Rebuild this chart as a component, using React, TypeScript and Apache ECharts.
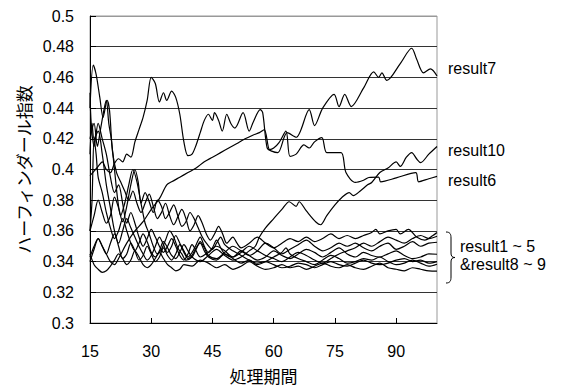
import React, { useEffect, useRef } from "react";
import * as echarts from "echarts";

type P = [number, number];

const xTicks = { min: 15, max: 100, interval: 15 };
const yTicks = { min: 0.3, max: 0.5, interval: 0.02 };

const result7: P[] = [[15,0.396],[16,0.399],[17,0.402],[18,0.405],[19,0.4],[20,0.398],[21,0.404],[22,0.407],[23,0.405],[24,0.41],[25,0.408],[26,0.418],[27,0.426],[28,0.434],[29,0.445],[30,0.46],[31,0.456],[32,0.444],[33,0.45],[33.8,0.445],[35,0.451],[36,0.447],[37,0.436],[38,0.418],[39,0.409],[40,0.41],[41,0.416],[42,0.424],[43,0.432],[44,0.436],[45,0.432],[45.5,0.437],[46.5,0.432],[47.4,0.425],[48.5,0.436],[49.5,0.43],[50.5,0.427],[52.5,0.437],[54,0.425],[55,0.431],[56.7,0.439],[57.3,0.437],[58.4,0.414],[59.5,0.412],[61,0.411],[63.3,0.424],[65.5,0.421],[68.7,0.439],[70,0.4286],[72,0.44],[74.8,0.449],[76,0.441],[77.4,0.449],[79,0.441],[82,0.453],[84.5,0.4636],[85.7,0.46],[86.5,0.463],[87.7,0.458],[91,0.469],[93.8,0.479],[95,0.472],[96.7,0.463],[98.4,0.4656],[100,0.461]];

const result6: P[] = [[15,0.343],[16,0.35],[17,0.355],[18,0.35],[19,0.345],[20,0.34],[21,0.338],[22,0.342],[24,0.352],[26,0.36],[28,0.366],[30,0.374],[32,0.381],[33.8,0.39],[35,0.392],[37,0.395],[39,0.398],[41,0.401],[43,0.405],[45,0.408],[47,0.411],[49,0.414],[51,0.417],[53,0.42],[55,0.4225],[56.5,0.424],[57.7,0.426],[59,0.413],[60,0.414],[61.3,0.4175],[63,0.425],[64,0.4085],[65.5,0.41],[67.4,0.416],[68.7,0.414],[70,0.418],[71.8,0.4208],[73,0.411],[76.5,0.411],[77.7,0.398],[80,0.3916],[82,0.393],[83.3,0.3948],[85.7,0.395],[86.2,0.392],[90,0.3945],[94.8,0.398],[95.5,0.392],[98,0.394],[100,0.3955]];

const result10: P[] = [[15,0.36],[15.5,0.38],[16,0.42],[16.5,0.41],[17,0.395],[18,0.385],[19,0.372],[20,0.362],[21,0.355],[22,0.36],[23,0.368],[24,0.36],[25,0.352],[26,0.347],[27,0.352],[28,0.358],[29,0.353],[30,0.346],[31,0.343],[32,0.347],[33,0.353],[34,0.349],[35,0.344],[36,0.342],[37,0.346],[38,0.351],[39,0.347],[40,0.343],[42,0.34],[44,0.344],[46,0.348],[48,0.344],[50,0.341],[52,0.343],[54,0.347],[55.5,0.35],[56.5,0.356],[58,0.362],[60,0.368],[62,0.374],[63.8,0.379],[65.5,0.376],[66.2,0.379],[68,0.373],[70.4,0.3656],[71.5,0.364],[73,0.37],[75,0.377],[76.7,0.3818],[78.5,0.385],[79.5,0.383],[81.2,0.386],[83,0.39],[84,0.3915],[86,0.398],[88,0.401],[90,0.405],[91,0.402],[92.5,0.408],[93.8,0.411],[95,0.407],[96,0.4045],[98,0.41],[100,0.415]];

const result1: P[] = [[15,0.345],[16,0.338],[17,0.335],[18,0.333],[19,0.334],[20,0.337],[21,0.341],[22,0.345],[23,0.342],[24,0.338],[25,0.341],[26,0.347],[27,0.343],[28,0.338],[29,0.336],[30,0.338],[31,0.342],[32,0.346],[33,0.342],[34,0.338],[35,0.336],[36,0.334],[37,0.335],[38,0.338],[40,0.337],[42,0.341],[44,0.339],[46,0.336],[48,0.338],[50,0.335],[52,0.337],[54,0.34],[56,0.337],[58,0.335],[60,0.336],[62,0.338],[64,0.336],[66,0.337],[68,0.335],[70,0.337],[72,0.339],[74,0.337],[76,0.336],[78,0.338],[80,0.336],[82,0.335],[84,0.337],[86,0.339],[88,0.336],[90,0.335],[92,0.334],[94,0.336],[96,0.335],[98,0.334],[100,0.3338]];

const result2: P[] = [[15,0.34],[16,0.348],[17,0.355],[18,0.35],[19,0.345],[20,0.352],[21,0.358],[22,0.35],[23,0.342],[24,0.345],[25,0.352],[26,0.347],[27,0.341],[28,0.344],[29,0.35],[30,0.345],[31,0.34],[32,0.343],[33,0.349],[34,0.344],[35,0.341],[36,0.345],[37,0.351],[38,0.346],[39,0.342],[40,0.344],[41,0.349],[42,0.352],[43,0.347],[44,0.343],[46,0.341],[48,0.345],[50,0.342],[52,0.339],[54,0.341],[56,0.338],[58,0.34],[60,0.343],[62,0.346],[63,0.349],[64,0.345],[66,0.342],[68,0.34],[70,0.338],[72,0.341],[74,0.344],[76,0.342],[78,0.339],[80,0.34],[82,0.342],[84,0.341],[86,0.343],[88,0.34],[90,0.338],[92,0.339],[94,0.341],[96,0.339],[98,0.337],[100,0.3383]];

const result3: P[] = [[15,0.41],[15.5,0.43],[16,0.42],[17,0.425],[18,0.41],[19,0.39],[20,0.375],[21,0.36],[22,0.352],[23,0.36],[24,0.368],[25,0.362],[26,0.356],[27,0.35],[28,0.345],[29,0.341],[30,0.344],[31,0.35],[32,0.356],[33,0.351],[34,0.346],[35,0.35],[36,0.357],[37,0.352],[38,0.347],[39,0.343],[40,0.346],[41,0.351],[42,0.356],[43,0.35],[44,0.346],[45,0.349],[46,0.354],[47,0.349],[48,0.345],[50,0.343],[52,0.347],[54,0.344],[56,0.341],[58,0.343],[60,0.347],[62,0.344],[64,0.342],[66,0.345],[68,0.348],[70,0.346],[72,0.343],[74,0.346],[76,0.349],[78,0.345],[80,0.343],[82,0.346],[84,0.344],[86,0.343],[88,0.345],[90,0.347],[92,0.344],[94,0.342],[96,0.343],[98,0.345],[100,0.3448]];

const result4: P[] = [[15,0.44],[15.8,0.468],[16.5,0.462],[17.4,0.447],[18.2,0.434],[19.2,0.445],[19.8,0.438],[20.5,0.412],[21.5,0.398],[22.5,0.392],[23.5,0.386],[24.5,0.38],[25.5,0.386],[26.5,0.378],[27.5,0.372],[28.5,0.378],[29.5,0.384],[30.5,0.376],[31.5,0.368],[32.5,0.372],[33.5,0.378],[34.5,0.37],[35.5,0.364],[36.5,0.369],[37.5,0.374],[38.5,0.368],[39.5,0.36],[40.5,0.364],[41.5,0.37],[42.5,0.365],[43.5,0.358],[44.5,0.354],[45.5,0.358],[46.5,0.363],[47.5,0.358],[48.5,0.352],[50,0.356],[51,0.352],[52,0.349],[54,0.352],[56,0.356],[58,0.352],[60,0.349],[62,0.352],[64,0.355],[66,0.353],[68,0.356],[70,0.353],[72,0.355],[74,0.358],[76,0.355],[78,0.357],[80,0.355],[82,0.357],[84,0.359],[85,0.361],[86,0.358],[88,0.36],[90,0.361],[91,0.358],[93,0.361],[95,0.356],[97,0.354],[99,0.357],[100,0.359]];

const result5: P[] = [[15,0.42],[16,0.43],[16.8,0.415],[17.5,0.425],[18.5,0.44],[19,0.445],[19.6,0.43],[20.2,0.42],[21,0.4],[21.8,0.38],[22.5,0.37],[23.5,0.378],[24.5,0.39],[25.5,0.4],[26.5,0.392],[27.5,0.378],[28.5,0.365],[29.5,0.358],[30.5,0.35],[31.5,0.345],[32.5,0.348],[33.5,0.354],[34.5,0.36],[35.5,0.356],[36.5,0.349],[37.5,0.345],[38.5,0.341],[40,0.343],[41,0.348],[42,0.353],[43,0.349],[44,0.344],[46,0.342],[48,0.346],[50,0.35],[52,0.347],[54,0.344],[56,0.347],[58,0.352],[60,0.349],[62,0.345],[64,0.348],[66,0.351],[68,0.354],[70,0.35],[72,0.347],[74,0.349],[76,0.352],[78,0.35],[80,0.352],[82,0.349],[84,0.347],[86,0.35],[88,0.352],[90,0.348],[92,0.35],[94,0.353],[96,0.35],[98,0.352],[100,0.3526]];

const result8: P[] = [[15,0.36],[16,0.37],[17,0.38],[18,0.372],[19,0.365],[20,0.37],[21,0.382],[22,0.375],[23,0.366],[24,0.376],[25,0.39],[26,0.4],[26.8,0.392],[27.5,0.378],[28.5,0.385],[29.5,0.379],[30.5,0.372],[31.5,0.38],[32.5,0.376],[33.5,0.368],[34.5,0.372],[35.5,0.377],[36.5,0.37],[37.5,0.363],[38.5,0.366],[39.5,0.372],[40.5,0.368],[41.5,0.362],[42.5,0.356],[43.5,0.352],[45,0.348],[46,0.352],[47,0.356],[48,0.351],[50,0.347],[52,0.344],[54,0.341],[56,0.339],[58,0.34],[60,0.338],[62,0.336],[64,0.337],[66,0.339],[68,0.338],[70,0.336],[72,0.338],[74,0.34],[76,0.338],[78,0.337],[80,0.339],[82,0.341],[84,0.339],[86,0.338],[88,0.339],[90,0.341],[92,0.342],[94,0.34],[96,0.341],[98,0.339],[100,0.34]];

const result9: P[] = [[15,0.45],[15.3,0.43],[16,0.415],[17,0.43],[18,0.42],[19,0.41],[20,0.395],[21,0.385],[22,0.39],[23,0.378],[24,0.365],[25,0.372],[26,0.365],[27,0.356],[28,0.35],[29,0.355],[30,0.361],[31,0.356],[32,0.35],[33,0.346],[34,0.35],[35,0.355],[36,0.35],[37,0.344],[38,0.341],[39,0.345],[40,0.351],[41,0.347],[42,0.343],[44,0.346],[46,0.35],[48,0.347],[50,0.343],[52,0.346],[54,0.35],[56,0.347],[58,0.344],[60,0.342],[62,0.34],[64,0.343],[66,0.346],[68,0.344],[70,0.341],[72,0.339],[74,0.342],[76,0.345],[78,0.347],[80,0.349],[82,0.352],[84,0.35],[86,0.353],[88,0.356],[90,0.354],[92,0.352],[94,0.355],[96,0.357],[98,0.355],[100,0.3565]];

const seriesList: P[][] = [result1, result2, result3, result4, result5, result6, result7, result8, result9, result10];

const rightLabels = ["result7", "result10", "result6", "result1 ~ 5", "&result8 ~ 9"];
const xName = "処理期間";
const yName = "ハーフィンダール指数";

const LATIN = "'Liberation Sans', Arial, sans-serif";
const CJK = "'Noto Sans CJK JP', sans-serif";

echarts.graphic.registerShape(
  "brace",
  echarts.graphic.extendPath(
    "M0,0 C4,0 5,2 5,6 L5,21 C5,24 6,25.5 9,25.5 C6,25.5 5,27 5,30 L5,45 C5,49 4,51 0,51",
    {}
  ) as any
);

export default function App() {
  const ref = useRef<HTMLDivElement>(null);
  useEffect(() => {
    if (!ref.current) return;
    const chart = echarts.init(ref.current, undefined, { renderer: "svg" });
    const labelPos = [
      [448, 68],
      [448, 150],
      [448, 180],
      [460, 246],
      [460, 264],
    ];
    chart.setOption({
      animation: false,
      backgroundColor: "#fff",
      grid: {
        left: 90,
        top: 16,
        right: 128,
        bottom: 65,
        show: true,
        borderColor: "#999",
        borderWidth: 1,
      },
      xAxis: {
        type: "value",
        min: xTicks.min,
        max: xTicks.max,
        interval: xTicks.interval,
        name: xName,
        nameLocation: "middle",
        nameGap: 44,
        nameTextStyle: { fontFamily: CJK, fontSize: 17, color: "#000" },
        axisLine: { lineStyle: { color: "#000", width: 1 } },
        axisTick: { inside: true, length: 5, lineStyle: { color: "#000" } },
        axisLabel: {
          color: "#000",
          fontFamily: LATIN,
          fontSize: 16,
          margin: 20,
          showMaxLabel: false,
        },
        splitLine: { show: false },
      },
      yAxis: {
        type: "value",
        min: yTicks.min,
        max: yTicks.max,
        interval: yTicks.interval,
        name: yName,
        nameLocation: "middle",
        nameGap: 58,
        nameRotate: 90,
        nameTextStyle: { fontFamily: CJK, fontSize: 17, color: "#000" },
        axisLine: { show: true, lineStyle: { color: "#000", width: 1 } },
        axisTick: { show: true, inside: true, length: 6, lineStyle: { color: "#000" } },
        axisLabel: { color: "#000", fontFamily: LATIN, fontSize: 16, margin: 16 },
        splitLine: {
          show: true,
          lineStyle: {
            color: ["#000", "#333", "#333", "#333", "#333", "#333", "#333", "#333", "#333", "#333", "#999"],
            width: 1,
          },
        },
      },
      series: seriesList.map((d, i) => ({
        type: "line",
        name: "s" + i,
        data: d,
        showSymbol: false,
        symbol: "none",
        smooth: 0.3,
        lineStyle: { color: "#000", width: 1.2 },
        z: 3,
      })),
      graphic: [
        ...rightLabels.map((t, i) => ({
          type: "text",
          x: labelPos[i][0],
          y: labelPos[i][1],
          style: {
            text: t,
            fontFamily: LATIN,
            fontSize: 16,
            fill: "#000",
            verticalAlign: "middle",
            align: "left",
          },
        })),
        {
          type: "brace",
          x: 446,
          y: 232,
          style: { stroke: "#000", fill: "none", lineWidth: 1 },
        },
      ],
    });
    return () => chart.dispose();
  }, []);
  return <div ref={ref} style={{ width: 565, height: 389, position: "absolute", left: 0, top: 0 }} />;
}
